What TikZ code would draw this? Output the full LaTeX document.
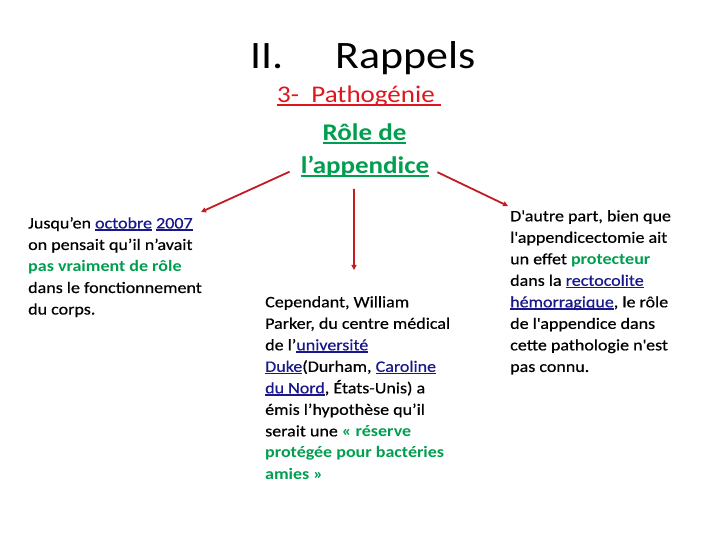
\documentclass[tikz,border=0pt]{standalone}
\usepackage{fontspec}
\setmainfont{Carlito}[FakeStretch=1.13]
\newfontfamily\corpsfont{Carlito}[FakeStretch=1.13,UprightFeatures={FakeBold=0.5}]
\usepackage{xcolor}
\usetikzlibrary{positioning,arrows.meta}

\definecolor{titlered}{RGB}{222,22,30}
\definecolor{arrowred}{RGB}{196,26,34}
\definecolor{textgreen}{RGB}{0,158,78}
\definecolor{linkblue}{RGB}{24,24,140}

% underline the way the slide does it (through the descenders)
\newcommand{\souligne}[1]{\setbox0=\hbox{#1}\rlap{\rule[-0.14em]{\wd0}{0.09em}}\box0}
\newcommand{\lien}[1]{\textcolor{linkblue}{\souligne{#1}}}
\newcommand{\motvert}[1]{\textcolor{textgreen}{\bfseries #1}}

\begin{document}
\begin{tikzpicture}[x=1bp,y=-1bp,
    every node/.style={inner sep=0pt},
    corps/.style={anchor=north west,align=left,font=\corpsfont\fontsize{16}{21.6}\selectfont},
    fleche/.style={arrowred,line width=1.8bp,-{Triangle[length=5bp,width=5bp]}}]
  \useasboundingbox (0,0) rectangle (720,540);

  % titles
  \node[anchor=base west,font=\fontsize{39}{44}\selectfont] (titre) at (250,69) {II.\hspace{52bp}Rappels};
  \node[anchor=base west,font=\fontsize{24}{28}\selectfont,text=titlered] (patho) at (277,103) {\souligne{3-\ \ Pathogénie\ }};
  \node[anchor=base,font=\fontsize{24}{28}\selectfont\bfseries,text=textgreen] (role) at (364.5,141) {\souligne{Rôle de}};
  \node[anchor=base,font=\fontsize{24}{28}\selectfont\bfseries,text=textgreen] (app) at (365,174) {\souligne{l’appendice}};

  % the three text blocks
  \node[corps] (gauche) at (28,217) {Jusqu’en \lien{octobre} \lien{2007}\\
    on pensait qu’il n’avait\\
    \motvert{pas vraiment de rôle}\\
    dans le fonctionnement\\
    du corps.};
  \node[corps] (milieu) at (265,296) {Cependant, William\\
    Parker, du centre médical\\
    de l’\lien{université}\\
    \lien{Duke}(Durham, \lien{Caroline}\\
    \lien{du Nord}, États-Unis) a\\
    émis l’hypothèse qu’il\\
    serait une \motvert{« réserve}\\
    \motvert{protégée pour bactéries}\\
    \motvert{amies »}};
  \node[corps] (droite) at (510,210) {D\textquotesingle autre part, bien que\\
    l\textquotesingle appendicectomie ait\\
    un effet \motvert{protecteur}\\
    dans la \lien{rectocolite}\\
    \lien{hémorragique}, le rôle\\
    de l\textquotesingle appendice dans\\
    cette pathologie n\textquotesingle est\\
    pas connu.};

  % arrows
  \draw[fleche] ([xshift=-11bp,yshift=-4.5bp]app.west) -- ([xshift=-1bp,yshift=5bp]gauche.north east);
  \draw[fleche] ([xshift=-11bp,yshift=-11bp]app.south) -- ([xshift=89bp,yshift=26bp]milieu.north west);
  \draw[fleche] ([xshift=8bp,yshift=-5bp]app.east) -- ([xshift=-2bp,yshift=4bp]droite.north west);
\end{tikzpicture}
\end{document}
